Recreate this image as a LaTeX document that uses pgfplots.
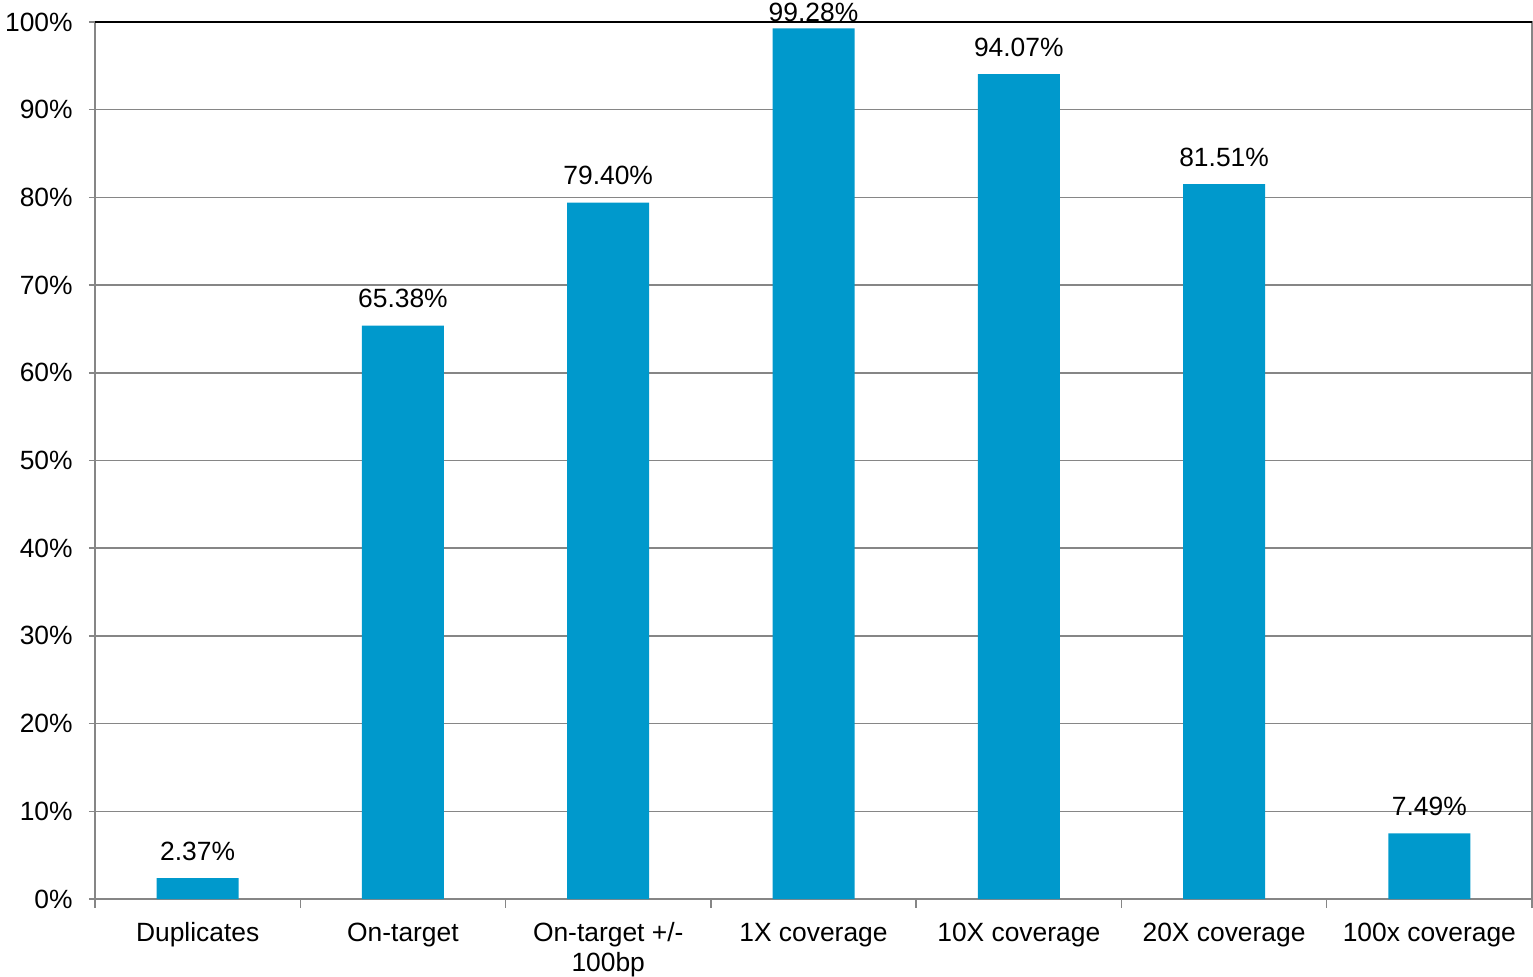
\documentclass[border=0pt]{standalone}
\usepackage{pgfplots}
\pgfplotsset{compat=1.18}
\usepackage{fontspec}
\setmainfont{Liberation Sans}
\definecolor{barblue}{RGB}{0,153,204}
\definecolor{gridgray}{RGB}{134,134,134}

\begin{document}
\begin{tikzpicture}[font=\fontsize{13.2}{15}\selectfont]
\begin{axis}[
  scale only axis,
  width=718.5pt, height=438.5pt,
  xmin=-0.5, xmax=6.5, ymin=0, ymax=100,
  clip=false,
  ybar, bar width=41pt,
  axis line style={gridgray, line width=0.75pt},
  ymajorgrids,
  major grid style={gridgray, line width=0.75pt},
  tick align=outside,
  xtick pos=bottom, ytick pos=left,
  major tick length=3pt,
  minor tick length=4.25pt,
  tick style={gridgray, line width=0.75pt},
  major x tick style={draw=none},
  ytick={0,10,...,100},
  yticklabel={\pgfmathprintnumber{\tick}\%},
  /pgf/number format/assume math mode=true,
  xtick={0,...,6},
  minor xtick={-0.5,0.5,...,6.5},
  xticklabels={Duplicates, On-target, {On-target +/-\\100bp}, 1X coverage, 10X coverage, 20X coverage, 100x coverage},
  typeset ticklabels with strut,
  xticklabel style={align=center, inner sep=0pt, anchor=north, yshift=-7.5pt},
  yticklabel style={inner sep=0pt, anchor=east, xshift=-8pt},
  nodes near coords={\pgfmathprintnumber[fixed,fixed zerofill,precision=2]{\pgfplotspointmeta}\%},
  visualization depends on={y \as \rawy},
  nodes near coords style={black, inner sep=0pt, anchor=base,
    yshift={ifthenelse(\rawy>99,3.2,9)*1pt}},
]
\addplot[fill=barblue, draw=none] coordinates {
  (0,2.37) (1,65.38) (2,79.40) (3,99.28) (4,94.07) (5,81.51) (6,7.49)
};
\draw[black, line width=0.8pt] (rel axis cs:0,1) -- (rel axis cs:1,1);
\end{axis}
\pgfresetboundingbox
\path[use as bounding box] ([xshift=-47.5pt,yshift=-38.5pt]current axis.south west)
  rectangle ([xshift=0.5pt,yshift=11pt]current axis.north east);
\end{tikzpicture}
\end{document}
